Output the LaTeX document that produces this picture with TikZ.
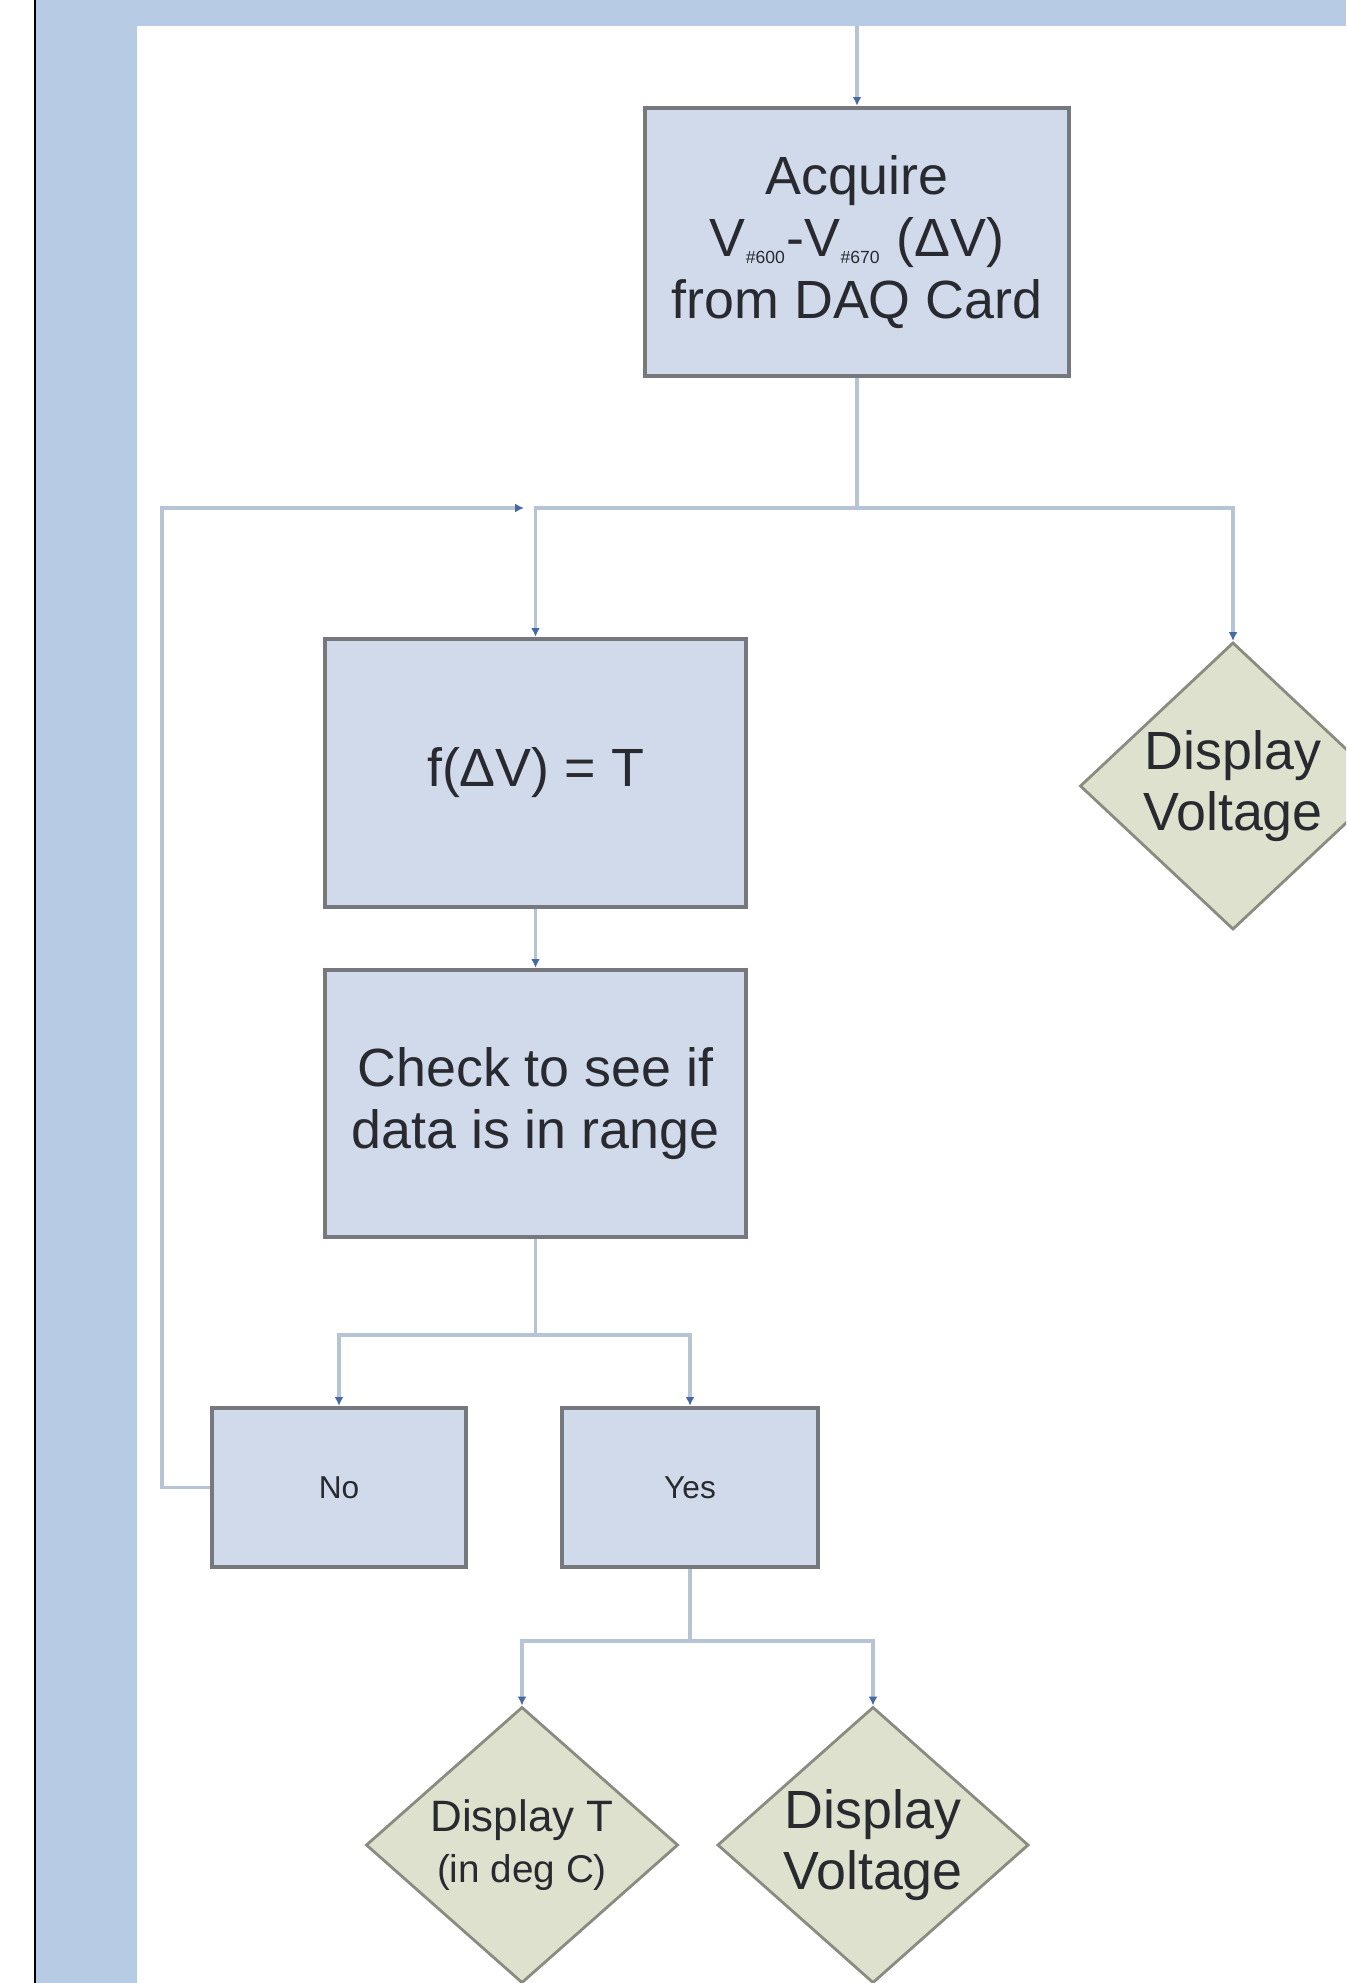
\documentclass[tikz,border=0pt]{standalone}
\usepackage{fontspec}
\setmainfont{Liberation Sans}
\usetikzlibrary{shapes.geometric,arrows.meta}
\definecolor{bandblue}{RGB}{184,203,228}
\definecolor{boxblue}{RGB}{208,218,235}
\definecolor{boxedge}{RGB}{118,120,126}
\definecolor{diafill}{RGB}{222,225,205}
\definecolor{diaedge}{RGB}{138,140,128}
\definecolor{linkblue}{RGB}{183,196,214}
\definecolor{tipblue}{RGB}{70,105,165}
\definecolor{inkgray}{RGB}{40,42,48}
\newcommand{\chan}[1]{\textsubscript{\fontsize{5}{5}\selectfont#1}}
\begin{document}
\begin{tikzpicture}[x=0.01cm,y=-0.01cm,
    procbox/.style={draw=boxedge,line width=1.2pt,fill=boxblue,align=center,inner sep=0pt,text=inkgray,
      font=\fontsize{15.3}{17.6}\selectfont},
    decbox/.style={diamond,aspect=1.1,draw=diaedge,line width=0.8pt,fill=diafill,align=center,inner sep=0pt,text=inkgray},
    link/.style={draw=linkblue,line width=0.9pt},
    arr/.style={link,-{Latex[length=2.5pt,width=2.5pt,color=tipblue]}}]
  \useasboundingbox (0,0) rectangle (1346,1983);
  \clip (0,0) rectangle (1346,1983);
  \fill[white] (0,0) rectangle (1346,1983);
  \fill[bandblue] (35,0) rectangle (137,1983);
  \fill[bandblue] (35,0) rectangle (1346,26);
  \draw[black,line width=0.3pt] (35,0) -- (35,1983);

  \node[procbox,minimum width=4.24cm,minimum height=2.68cm] (acq) at (857,242)
    {Acquire\\V\chan{\#600}-V\chan{\#670} (ΔV)\\from DAQ Card};
  \node[procbox,minimum width=4.21cm,minimum height=2.68cm] (conv) at (535.5,773) {f(ΔV) = T};
  \node[procbox,minimum width=4.21cm,minimum height=2.67cm] (check) at (535.5,1103.5)
    {Check to see if\\data is in range};
  \node[procbox,minimum width=2.54cm,minimum height=1.59cm,font=\fontsize{9}{10}\selectfont] (no) at (339,1487.5) {No};
  \node[procbox,minimum width=2.56cm,minimum height=1.59cm,font=\fontsize{9}{10}\selectfont] (yes) at (690,1487.5) {Yes};
  \node[decbox,minimum width=3.06cm,minimum height=2.87cm,font=\fontsize{15.3}{17.4}\selectfont] (volt) at (1233,786)
    {Display\\Voltage};
  \node[decbox,minimum width=3.12cm,minimum height=2.76cm,font=\fontsize{12.5}{14.5}\selectfont] (dispT) at (522,1845)
    {Display T\\{\fontsize{11}{13}\selectfont(in deg C)}};
  \node[decbox,minimum width=3.11cm,minimum height=2.76cm,font=\fontsize{15.3}{17.4}\selectfont] (dispV) at (873,1845)
    {Display\\Voltage};

  \coordinate (in) at (857,26);
  \coordinate (split) at (857,508);
  \coordinate (loop) at (162,508);
  \coordinate (back) at (524,508);
  \coordinate (fork) at (535.5,1335);
  \coordinate (fork2) at (690,1641);

  \begin{scope}[link]
    \draw[arr] (in) -- (acq.north);
    \draw (acq) -- (split);
    \draw[arr] (split) -| (volt.north);
    \draw[arr] (split) -| (conv.north);
    \draw[arr] (conv) -- (check);
    \draw (check) -- (fork);
    \draw[arr] (fork) -| (no.north);
    \draw[arr] (fork) -| (yes.north);
    \draw[arr] (no.west) -| (loop) -- (back);
    \draw (yes) -- (fork2);
    \draw[arr] (fork2) -| (dispT.north);
    \draw[arr] (fork2) -| (dispV.north);
  \end{scope}
\end{tikzpicture}
\end{document}
